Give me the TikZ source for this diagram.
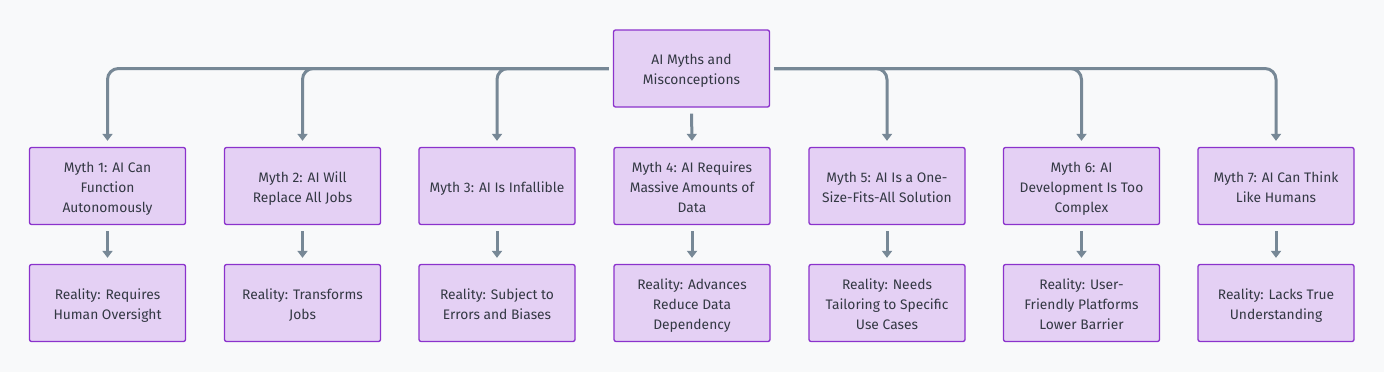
\documentclass[tikz,border=0pt]{standalone}
\usepackage{fontspec}
\setmainfont{Fira Sans}
\usetikzlibrary{arrows.meta, positioning}

\definecolor{bgpaper}{HTML}{F8F9FA}
\definecolor{boxfill}{HTML}{E4D0F4}
\definecolor{boxline}{HTML}{8B32CC}
\definecolor{linkgray}{HTML}{778896}
\definecolor{inkgray}{HTML}{333843}

\begin{document}
\begin{tikzpicture}[x=1pt,y=-1pt,
    every node/.style={font=\fontsize{13.8}{20}\selectfont, text=inkgray},
    idea/.style={draw=boxline, fill=boxfill, line width=1.3pt, rounded corners=2pt,
        minimum width=156pt, minimum height=77pt, align=center, inner sep=0pt,
        text height=12pt, text depth=0pt},
    twoline/.style={idea, text height=32pt},
    threeline/.style={idea, text height=52pt},
    link/.style={draw=linkgray, line width=3pt, rounded corners=11pt,
        -{Triangle[width=10pt,length=7pt]}}]
    \fill[bgpaper] (0,0) rectangle (1384,372);
    \useasboundingbox (0,0) rectangle (1384,372);

    % top node
    \node[twoline] (root) at (691.5,68.5) {AI Myths and\\Misconceptions};

    % myths
    \node[threeline] (m1) at (107.5,186) {Myth 1: AI Can\\Function\\Autonomously};
    \node[twoline] (m2) at (302.5,186) {Myth 2: AI Will\\Replace All Jobs};
    \node[idea] (m3) at (497,186) {Myth 3: AI Is Infallible};
    \node[threeline] (m4) at (692,186) {Myth 4: AI Requires\\Massive Amounts of\\Data};
    \node[twoline] (m5) at (887,186) {Myth 5: AI Is a One-\\Size-Fits-All Solution};
    \node[threeline] (m6) at (1081.5,186) {Myth 6: AI\\Development Is Too\\Complex};
    \node[twoline] (m7) at (1276,186) {Myth 7: AI Can Think\\Like Humans};

    % realities
    \node[twoline] (r1) at (107.5,303) {Reality: Requires\\Human Oversight};
    \node[twoline] (r2) at (302.5,303) {Reality: Transforms\\Jobs};
    \node[twoline] (r3) at (497,303) {Reality: Subject to\\Errors and Biases};
    \node[threeline] (r4) at (692,303) {Reality: Advances\\Reduce Data\\Dependency};
    \node[threeline] (r5) at (887,303) {Reality: Needs\\Tailoring to Specific\\Use Cases};
    \node[threeline] (r6) at (1081.5,303) {Reality: User-\\Friendly Platforms\\Lower Barrier};
    \node[twoline] (r7) at (1276,303) {Reality: Lacks True\\Understanding};

    % root to myths
    \draw[link, shorten <=4pt, shorten >=6pt] (root.west) -| (m1.north);
    \draw[link, shorten <=4pt, shorten >=6pt] (root.west) -| (m2.north);
    \draw[link, shorten <=4pt, shorten >=6pt] (root.west) -| (m3.north);
    \draw[link, shorten <=6pt, shorten >=6pt] (root.south) -- (m4.north);
    \draw[link, shorten <=4pt, shorten >=6pt] (root.east) -| (m5.north);
    \draw[link, shorten <=4pt, shorten >=6pt] (root.east) -| (m6.north);
    \draw[link, shorten <=4pt, shorten >=6pt] (root.east) -| (m7.north);

    % myths to realities
    \draw[link, shorten <=6pt, shorten >=6pt] (m1.south) -- (r1.north);
    \draw[link, shorten <=6pt, shorten >=6pt] (m2.south) -- (r2.north);
    \draw[link, shorten <=6pt, shorten >=6pt] (m3.south) -- (r3.north);
    \draw[link, shorten <=6pt, shorten >=6pt] (m4.south) -- (r4.north);
    \draw[link, shorten <=6pt, shorten >=6pt] (m5.south) -- (r5.north);
    \draw[link, shorten <=6pt, shorten >=6pt] (m6.south) -- (r6.north);
    \draw[link, shorten <=6pt, shorten >=6pt] (m7.south) -- (r7.north);
\end{tikzpicture}
\end{document}
